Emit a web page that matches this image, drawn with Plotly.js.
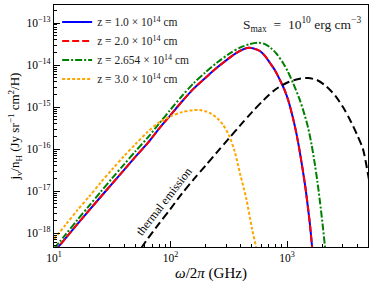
<!DOCTYPE html>
<html>
<head>
<meta charset="utf-8">
<script src="https://cdn.plot.ly/plotly-3.0.1.min.js"></script>
<style>html,body{margin:0;padding:0;background:#fff;}#chart{width:374px;height:284px;}</style>
</head>
<body>
<div id="chart"></div>
<script>
// frequencies in GHz, emissivity j_nu/n_H in Jy sr^-1 cm^2 / H
const freqZ1 = [10, 12.6, 15.8, 20, 25.1, 31.6, 39.8, 50.1, 63.1, 79.4, 100, 126, 158, 200, 251, 316, 363, 417, 468, 525, 589, 646, 714, 794, 871, 955, 1023, 1122, 1202, 1288, 1429, 1514, 1574, 1641, 1679];
const jZ1    = [3.55e-19, 7.59e-19, 1.622e-18, 3.467e-18, 7.24e-18, 1.514e-17, 3.16e-17, 6.61e-17, 1.349e-16, 3.02e-16, 6.46e-16, 1.38e-15, 2.75e-15, 5.01e-15, 8.71e-15, 1.445e-14, 1.905e-14, 2.344e-14, 2.57e-14, 2.455e-14, 2.138e-14, 1.66e-14, 1.122e-14, 7.24e-15, 4.365e-15, 2.512e-15, 1.479e-15, 5.62e-16, 2.40e-16, 8.51e-17, 1.38e-17, 3.98e-18, 1.585e-18, 4.68e-19, 2.24e-19];
const freqZ2 = [10, 12.6, 15.8, 20, 25.1, 31.6, 39.8, 50.1, 63.1, 79.4, 100, 126, 158, 200, 251, 316, 363, 417, 468, 525, 589, 646, 714, 794, 871, 955, 1023, 1122, 1202, 1288, 1429, 1514, 1574, 1641, 1679];
const jZ2    = [3.55e-19, 7.59e-19, 1.622e-18, 3.467e-18, 7.24e-18, 1.514e-17, 3.16e-17, 6.61e-17, 1.349e-16, 3.02e-16, 6.46e-16, 1.38e-15, 2.75e-15, 5.01e-15, 8.71e-15, 1.445e-14, 1.905e-14, 2.344e-14, 2.57e-14, 2.455e-14, 2.138e-14, 1.66e-14, 1.122e-14, 7.24e-15, 4.365e-15, 2.512e-15, 1.479e-15, 5.62e-16, 2.40e-16, 8.51e-17, 1.38e-17, 3.98e-18, 1.585e-18, 4.68e-19, 2.24e-19];
const freqZ3 = [10, 12.6, 15.8, 20, 25.1, 31.6, 39.8, 50.1, 63.1, 79.4, 100, 126, 158, 200, 251, 316, 398, 479, 562, 646, 724, 813, 925, 1023, 1127, 1288, 1413, 1514, 1622, 1738, 1820, 1919, 2018, 2118, 2163];
const jZ3    = [4.27e-19, 9.33e-19, 2.04e-18, 4.47e-18, 9.55e-18, 2.04e-17, 4.27e-17, 8.91e-17, 1.82e-16, 3.98e-16, 8.71e-16, 1.862e-15, 3.715e-15, 6.76e-15, 1.148e-14, 1.82e-14, 2.63e-14, 3.16e-14, 3.39e-14, 3.16e-14, 2.57e-14, 1.862e-14, 1.122e-14, 6.76e-15, 3.715e-15, 1.479e-15, 6.61e-16, 3.31e-16, 1.318e-16, 4.17e-17, 1.738e-17, 5.50e-18, 1.66e-18, 4.68e-19, 2.51e-19];
const freqZ4 = [10, 12.6, 15.8, 20, 25.1, 31.6, 39.8, 50.1, 63.1, 79.4, 100, 126, 158, 178, 200, 224, 251, 282, 316, 355, 398, 447, 501, 542, 562];
const jZ4    = [7.24e-19, 1.585e-18, 3.467e-18, 7.41e-18, 1.585e-17, 3.31e-17, 6.76e-17, 1.318e-16, 2.512e-16, 4.27e-16, 6.03e-16, 7.59e-16, 8.51e-16, 8.51e-16, 7.94e-16, 6.92e-16, 5.50e-16, 3.80e-16, 2.19e-16, 8.91e-17, 2.40e-17, 6.61e-18, 1.259e-18, 4.68e-19, 2.51e-19];
const freqTh = [50.1, 56.9, 63.1, 79.4, 100, 126, 158, 200, 251, 316, 398, 501, 631, 794, 1000, 1259, 1514, 1820, 2203, 2630, 3020, 3467, 3981, 4487, 4955, 5248];
const jTh    = [2.51e-19, 4.68e-19, 7.08e-19, 1.66e-18, 3.80e-18, 8.91e-18, 1.905e-17, 4.07e-17, 8.51e-17, 1.778e-16, 3.715e-16, 7.59e-16, 1.479e-15, 2.63e-15, 3.80e-15, 4.68e-15, 4.90e-15, 4.365e-15, 3.02e-15, 1.778e-15, 1.0e-15, 5.01e-16, 2.24e-16, 1.0e-16, 2.51e-17, 1.0e-17];

const seriesNames = ['z = 1.0 × 10<sup>14</sup> cm', 'z = 2.0 × 10<sup>14</sup> cm', 'z = 2.654 × 10<sup>14</sup> cm', 'z = 3.0 × 10<sup>14</sup> cm'];

const xTickVals = [10, 100, 1000];
const xTickText = ['10<sup>1</sup>', '10<sup>2</sup>', '10<sup>3</sup>'];
const yTickVals = [1e-18, 1e-17, 1e-16, 1e-15, 1e-14, 1e-13];
const yTickText = ['10<sup>−18</sup>', '10<sup>−17</sup>', '10<sup>−16</sup>', '10<sup>−15</sup>', '10<sup>−14</sup>', '10<sup>−13</sup>'];
const xMinor = [20, 30, 40, 50, 60, 70, 80, 90, 200, 300, 400, 500, 600, 700, 800, 900, 2000, 3000, 4000];
const yMinorMantissas = [2, 3, 4, 5, 6, 7, 8, 9];
const yMinorDecades = [-19, -18, -17, -16, -15, -14, -13];
const yMinor = [];
yMinorDecades.forEach(function (e) { yMinorMantissas.forEach(function (m) { yMinor.push(m * Math.pow(10, e)); }); });

const FONT = 'Liberation Serif, DejaVu Serif, serif';
const NB = '\u00A0';

const traces = [
  {x: freqZ1, y: jZ1, name: seriesNames[0], mode: 'lines', line: {color: '#0000ff', width: 2, shape: 'spline', smoothing: 0.8}},
  {x: freqZ2, y: jZ2, name: seriesNames[1], mode: 'lines', line: {color: '#ff0000', width: 2, dash: '7px,3px', shape: 'spline', smoothing: 0.8}},
  {x: freqZ3, y: jZ3, name: seriesNames[2], mode: 'lines', line: {color: '#008000', width: 2, dash: '7px,2px,2px,2px', shape: 'spline', smoothing: 0.8}},
  {x: freqZ4, y: jZ4, name: seriesNames[3], mode: 'lines', line: {color: '#ffa500', width: 2, dash: '3px,2px', shape: 'spline', smoothing: 0.8}},
  {x: freqTh, y: jTh, name: 'thermal', showlegend: false, mode: 'lines', line: {color: '#000000', width: 2, dash: '8px,4px', shape: 'spline', smoothing: 0.8}}
];

const layout = {
  width: 374, height: 284,
  margin: {l: 54, r: 6, t: 5, b: 37},
  paper_bgcolor: '#fff', plot_bgcolor: '#fff',
  font: {family: FONT, size: 11, color: '#000'},
  showlegend: true,
  legend: {x: 0.01, y: 0.99, xanchor: 'left', yanchor: 'top', bgcolor: 'rgba(255,255,255,0)', font: {family: FONT, size: 11.5, color: '#222'}, tracegroupgap: 0, itemwidth: 30},
  xaxis: {
    type: 'log', range: [1, 3.695],
    tickmode: 'array', tickvals: xTickVals, ticktext: xTickText,
    ticks: 'inside', ticklen: 6, tickwidth: 1, tickcolor: '#000',
    minor: {tickmode: 'array', tickvals: xMinor, ticks: 'inside', ticklen: 3, tickwidth: 1, tickcolor: '#000', showgrid: false},
    showline: true, linecolor: '#000', linewidth: 1.2, mirror: true,
    showgrid: false, zeroline: false,
    tickfont: {family: FONT, size: 11.5},
    title: {text: '<i>ω</i>/2<i>π</i> (GHz)', font: {family: FONT, size: 15}, standoff: 4}
  },
  yaxis: {
    type: 'log', range: [-18.33, -12.57],
    tickmode: 'array', tickvals: yTickVals, ticktext: yTickText,
    ticks: 'inside', ticklen: 6, tickwidth: 1, tickcolor: '#000',
    minor: {tickmode: 'array', tickvals: yMinor, ticks: 'inside', ticklen: 3, tickwidth: 1, tickcolor: '#000', showgrid: false},
    showline: true, linecolor: '#000', linewidth: 1.2, mirror: true,
    showgrid: false, zeroline: false,
    tickfont: {family: FONT, size: 11.5},
    title: {text: 'j<sub>ν</sub>/n<sub>H</sub> (Jy sr<sup>−1</sup> cm<sup>2</sup>/H)', font: {family: FONT, size: 13}, standoff: 3}
  },
  annotations: [
    {xref: 'paper', yref: 'paper', x: 0.985, y: 0.92, xanchor: 'right', yanchor: 'middle', showarrow: false,
     text: 'S<sub>max</sub>' + NB + NB + '=' + NB + NB + '10<sup>10</sup>' + NB + 'erg' + NB + 'cm<sup>−3</sup>', font: {family: FONT, size: 13.5, color: '#222'}},
    {xref: 'x', yref: 'y', x: 1.94, y: -17.26, showarrow: false, textangle: -52,
     text: 'thermal emission', font: {family: FONT, size: 12, color: '#000'}}
  ]
};

Plotly.newPlot('chart', traces, layout, {staticPlot: true, displayModeBar: false});
</script>
</body>
</html>
